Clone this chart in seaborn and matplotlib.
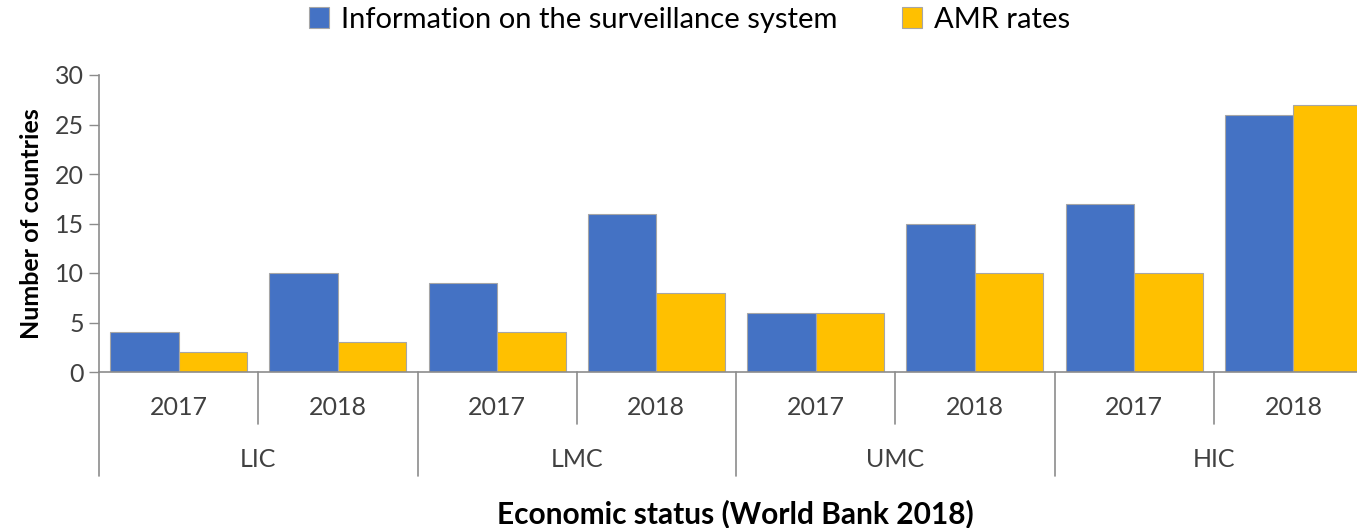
import matplotlib
matplotlib.use("Agg")
import matplotlib.pyplot as plt
import matplotlib.transforms as mtransforms
import seaborn as sns
import pandas as pd

# Survey results by economic status and year
groups = ["LIC", "LMC", "UMC", "HIC"]
years = ["2017", "2018"]
series_names = ["Information on the surveillance system", "AMR rates"]
surveillance_info = [4, 10, 9, 16, 6, 15, 17, 26]
amr_rates = [2, 3, 4, 8, 6, 10, 10, 27]
yticks = [0, 5, 10, 15, 20, 25, 30]

colors = ["#4472C4", "#FFC000"]
grid_col = "#8c8c8c"
tick_col = "#404040"

slots = [f"{g} {y}" for g in groups for y in years]
rows = []
for name, vals in zip(series_names, [surveillance_info, amr_rates]):
    for slot, v in zip(slots, vals):
        rows.append({"slot": slot, "series": name, "count": v})
df = pd.DataFrame(rows)

sns.set_theme(style="white")
plt.rcParams["font.family"] = ["Lato", "DejaVu Sans"]

fig = plt.figure(figsize=(13.57, 5.28), dpi=100)
ax = fig.add_axes([99 / 1357, 1 - 372 / 528, 1274 / 1357, 297 / 528])

sns.barplot(data=df, x="slot", y="count", hue="series", order=slots,
            hue_order=series_names, palette=colors, width=0.86,
            edgecolor="#a6a6a6", linewidth=0.8, saturation=1, ax=ax,
            legend=True)

ax.set_xlim(-0.5, len(slots) - 0.5)
ax.set_ylim(0, 30)
ax.set_yticks(yticks)
ax.set_yticklabels([str(t) for t in yticks], fontsize=18, color=tick_col)
ax.tick_params(axis="y", direction="out", length=7, width=1, color=grid_col, pad=4,
               left=True)
ax.tick_params(axis="x", bottom=False, labelbottom=False)
for side in ["top", "right"]:
    ax.spines[side].set_visible(False)
for side in ["left", "bottom"]:
    ax.spines[side].set_color(grid_col)
    ax.spines[side].set_linewidth(1.2)

ax.set_xlabel("")
ax.set_ylabel("Number of countries", fontsize=18, fontweight="bold", color="black",
              labelpad=8)

# Two-level category axis: years on the first row, economic groups below
trans = mtransforms.blended_transform_factory(ax.transData, ax.transAxes)
for i, slot in enumerate(slots):
    yr = slot.split()[1]
    ax.text(i, -0.118, yr, transform=trans, ha="center", va="center",
            fontsize=18, color=tick_col)
for k, g in enumerate(groups):
    ax.text(2 * k + 0.5, -0.296, g, transform=trans, ha="center", va="center",
            fontsize=18, color=tick_col)
for b in range(len(slots) + 1):
    xb = b - 0.5
    low = -0.35 if b % 2 == 0 else -0.175
    ax.plot([xb, xb], [0, low], transform=trans, color=grid_col, lw=1.2,
            clip_on=False)

fig.text(0.542, 0.028, "Economic status (World Bank 2018)", ha="center",
         va="center", fontsize=21.5, fontweight="bold", color="black")

handles, labels = ax.get_legend_handles_labels()
ax.get_legend().remove()
fig.legend(handles, labels, loc="center", bbox_to_anchor=(0.508, 0.963), ncol=2,
           frameon=False, fontsize=21, handlelength=0.7, handleheight=0.7,
           handletextpad=0.4, columnspacing=2.2, labelcolor="black")

fig.savefig("out.png", dpi=100)
